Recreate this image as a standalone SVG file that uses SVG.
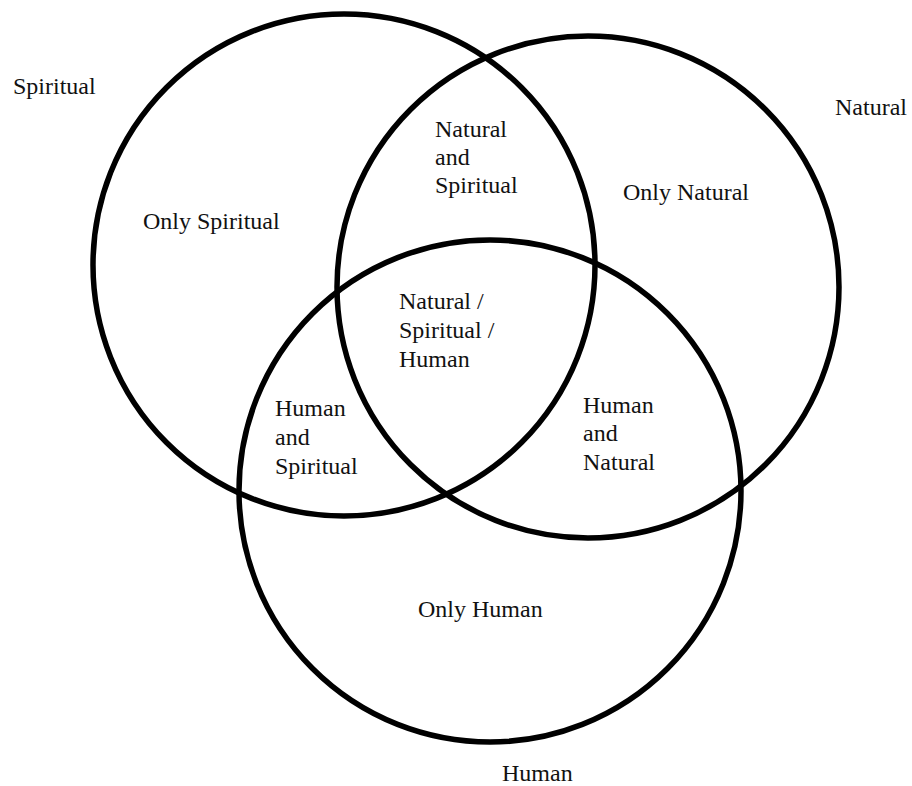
<svg xmlns="http://www.w3.org/2000/svg" width="912" height="786" viewBox="0 0 912 786">
<style>
.c{fill:none;stroke:#000;stroke-width:5.5}
text{font-family:"Liberation Serif","Times New Roman",serif;font-size:24px;fill:#111}
</style>
<rect width="912" height="786" fill="#fff"/>
<g id="spiritual"><circle class="c" cx="344" cy="265" r="251"/></g>
<g id="natural"><circle class="c" cx="588" cy="287" r="251"/></g>
<g id="human"><circle class="c" cx="490" cy="491" r="251"/></g>
<g id="connectors"></g>
<g id="labels">
<text x="13" y="94">Spiritual</text>
<text x="835" y="115">Natural</text>
<text x="502" y="781">Human</text>
<text x="143" y="229">Only Spiritual</text>
<text x="623" y="200">Only Natural</text>
<text x="418" y="617">Only Human</text>
<text x="435" y="137">Natural</text>
<text x="435" y="165">and</text>
<text x="435" y="193">Spiritual</text>
<text x="399" y="309">Natural /</text>
<text x="399" y="338">Spiritual /</text>
<text x="399" y="367">Human</text>
<text x="275" y="416">Human</text>
<text x="275" y="445">and</text>
<text x="275" y="474">Spiritual</text>
<text x="583" y="413">Human</text>
<text x="583" y="441">and</text>
<text x="583" y="470">Natural</text>
</g>
</svg>
